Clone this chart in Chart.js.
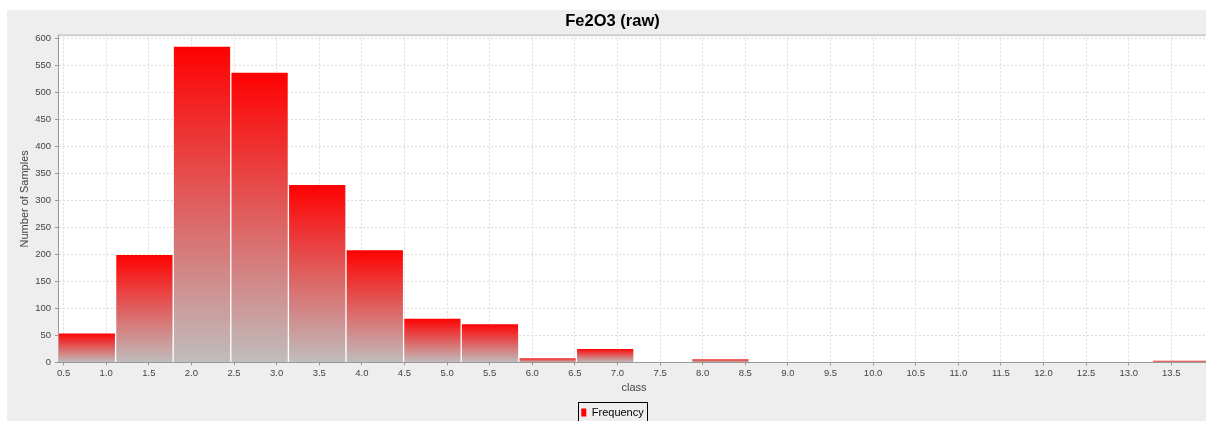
<!DOCTYPE html>
<html>
<head>
<meta charset="utf-8">
<title>Fe2O3 (raw)</title>
<script src="https://cdn.jsdelivr.net/npm/chart.js@4/dist/chart.umd.min.js"></script>
<style>
  html, body { margin: 0; padding: 0; background: #fff; overflow: hidden; }
  #panel { position: absolute; left: 7px; top: 10px; width: 1211px; height: 418px; background: #eeeeee; }
</style>
</head>
<body>
<div id="panel"><canvas id="hist"></canvas></div>
<script>
// histogram bins: 20 equal classes starting at the data minimum
var binMin = 0.434;
var binWidth = 0.676;
var frequency = [55, 200, 586, 538, 330, 209, 82, 72, 9, 26, 0, 7, 0, 0, 0, 0, 0, 0, 0, 4];
var yMax = 606;

var binCenters = frequency.map(function (v, i) { return binMin + (i + 0.5) * binWidth; });
var binMax = binMin + frequency.length * binWidth;

Chart.defaults.font.family = '"Liberation Sans", Arial, sans-serif';

// red at the top of each bar fading to grey at the base
function barGradient(ctx) {
    var chart = ctx.chart;
    if (ctx.type !== 'data' || !chart.chartArea) return 'rgb(255,0,0)';
    var y = chart.scales.y;
    var top = y.getPixelForValue(ctx.parsed.y);
    var base = y.getPixelForValue(0);
    if (base - top < 1) return 'rgb(255,0,0)';
    var g = chart.ctx.createLinearGradient(0, top, 0, base);
    g.addColorStop(0, 'rgb(255,0,0)');
    g.addColorStop(1, 'rgb(192,189,189)');
    return g;
}

var plotFrame = {
    id: 'plotFrame',
    beforeDraw: function (chart) {
        var c = chart.ctx, a = chart.chartArea;
        c.save();
        c.fillStyle = '#ffffff';
        c.fillRect(a.left, a.top, a.width, a.height);
        c.strokeStyle = '#cfcfcf';
        c.lineWidth = 2;
        c.beginPath();
        c.moveTo(a.left, a.top);
        c.lineTo(a.right, a.top);
        c.stroke();
        c.restore();
    },
    afterDraw: function (chart) {
        // box round the legend
        var hb = chart.legend.legendHitBoxes[0];
        if (!hb) return;
        var c = chart.ctx;
        c.save();
        c.strokeStyle = '#000';
        c.lineWidth = 1;
        c.strokeRect(Math.round(hb.left - 3) + 0.5, Math.round(hb.top - 5) + 0.5,
            Math.round(hb.width + 7), Math.round(hb.height + 10));
        c.restore();
    }
};

var ctx = document.getElementById('hist');
var histChart = new Chart(ctx, {
    type: 'bar',
    data: {
        datasets: [
            {
                label: 'Frequency',
                data: binCenters.map(function (x, i) { return { x: x, y: frequency[i] }; }),
                xAxisID: 'xb',
                backgroundColor: barGradient,
                borderColor: 'rgba(255,255,255,0.35)',
                borderWidth: 1,
                barPercentage: 1,
                categoryPercentage: 1
            }
        ]
    },
    options: {
        responsive: true,
        maintainAspectRatio: false,
        animation: false,
        layout: { padding: { left: 8, right: 8, top: 0, bottom: 0 } },
        scales: {
            // axis the bars sit on, no ticks so the bar width follows the bin spacing
            xb: {
                type: 'linear',
                display: false,
                min: binMin,
                max: binMax,
                offset: false,
                grid: { offset: false },
                afterBuildTicks: function (s) { s.ticks = []; }
            },
            x: {
                type: 'linear',
                position: 'bottom',
                min: binMin,
                max: binMax,
                offset: false,
                grid: { offset: false, color: '#dcdcdc', tickColor: '#999', tickLength: 3 },
                border: { color: '#999', width: 1, dash: [2, 2] },
                ticks: {
                    stepSize: 0.5,
                    includeBounds: false,
                    autoSkip: false,
                    maxRotation: 0,
                    padding: 2,
                    color: '#444',
                    font: { size: 9.5 },
                    callback: function (v) { return v.toFixed(1); }
                },
                title: { display: true, text: 'class', color: '#444', font: { size: 11 }, padding: { top: 1, bottom: 3 } }
            },
            y: {
                min: 0,
                max: yMax,
                grid: { color: '#dcdcdc', tickColor: '#999', tickLength: 3 },
                border: { color: '#999', width: 1, dash: [2, 2] },
                ticks: { stepSize: 50, includeBounds: false, padding: 4, color: '#444', font: { size: 9.5 } },
                title: { display: true, text: 'Number of Samples', color: '#444', font: { size: 11 }, padding: { top: 3.4, bottom: 0 } },
                afterFit: function (s) { s.width = 43; }
            }
        },
        plugins: {
            title: {
                display: true,
                text: 'Fe2O3 (raw)',
                color: '#000',
                font: { size: 16.5, weight: 'bold' },
                padding: { top: 2, bottom: 3.5 }
            },
            legend: {
                position: 'bottom',
                labels: {
                    boxWidth: 5,
                    boxHeight: 8,
                    padding: 9,
                    color: '#000',
                    font: { size: 11 },
                    generateLabels: function (chart) {
                        return [{ text: 'Frequency', fillStyle: '#ff0000', strokeStyle: '#ff0000', lineWidth: 0, datasetIndex: 0 }];
                    }
                }
            },
            tooltip: { enabled: false }
        }
    },
    plugins: [plotFrame]
});
</script>
</body>
</html>
